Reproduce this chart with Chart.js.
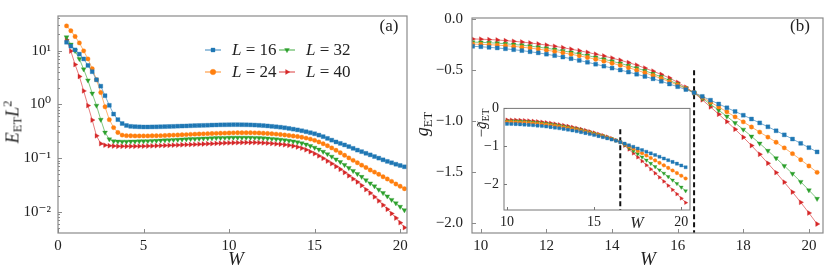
<!DOCTYPE html>
<html>
<head>
<meta charset="utf-8">
<script src="https://cdn.jsdelivr.net/npm/chart.js@4.4.1/dist/chart.umd.min.js"></script>
<style>
  body { margin: 0; width: 830px; height: 277px; position: relative; background: #fff; overflow: hidden; }
  canvas { position: absolute; }
  .lab { position: absolute; font-family: "Liberation Serif", serif; color: #222; white-space: nowrap; transform: translate(-50%, -50%); }
  .rot { transform: translate(-50%, -50%) rotate(-90deg); }
  i { font-style: italic; }
  sub { font-size: 70%; vertical-align: -0.25em; }
  sup { font-size: 70%; vertical-align: 0.55em; }
</style>
</head>
<body>
<canvas id="ca" width="412" height="277" style="left:0;top:0"></canvas>
<canvas id="cb" width="418" height="277" style="left:412px;top:0"></canvas>
<canvas id="ci" width="225" height="140" style="left:470px;top:95px"></canvas>

<div class="lab rot" style="left:13px;top:122px;font-size:18px"><i>E</i><sub>ET</sub><i>L</i><sup>2</sup></div>
<div class="lab" style="left:236px;top:259px;font-size:19px"><i>W</i></div>
<div class="lab" style="left:389px;top:26px;font-size:17px">(a)</div>
<div class="lab rot" style="left:424px;top:124px;font-size:18px"><i>g</i><sub>ET</sub></div>
<div class="lab" style="left:648px;top:259px;font-size:19px"><i>W</i></div>
<div class="lab" style="left:800px;top:26px;font-size:17px">(b)</div>
<div class="lab rot" style="left:482px;top:123px;font-size:15px">−<i>g̃</i><sub>ET</sub></div>
<div class="lab" style="left:637px;top:223px;font-size:16px"><i>W</i></div>

<script>
// system sizes
var sizes = [16, 24, 32, 40];
var colors = ["#1f77b4", "#ff7f0e", "#2ca02c", "#d62728"];

// W grid (panel a), panel b and inset use the upper part
var wA = [0.5, 0.75, 1.0, 1.25, 1.5, 1.75, 2.0, 2.25, 2.5, 2.75,
          3.0, 3.25, 3.5, 3.75, 4.0, 4.25, 4.5, 4.75, 5.0, 5.25,
          5.5, 5.75, 6.0, 6.25, 6.5, 6.75, 7.0, 7.25, 7.5, 7.75,
          8.0, 8.25, 8.5, 8.75, 9.0, 9.25, 9.5, 9.75, 10.0, 10.25,
          10.5, 10.75, 11.0, 11.25, 11.5, 11.75, 12.0, 12.25, 12.5, 12.75,
          13.0, 13.25, 13.5, 13.75, 14.0, 14.25, 14.5, 14.75, 15.0, 15.25,
          15.5, 15.75, 16.0, 16.25, 16.5, 16.75, 17.0, 17.25, 17.5, 17.75,
          18.0, 18.25, 18.5, 18.75, 19.0, 19.25, 19.5, 19.75, 20.0, 20.25];
var wB = wA.slice(37);      // 9.75 .. 20.25
var wInset = wA.slice(38);  // 10.0 .. 20.25

// (a) E_ET L^2
var e16 = [14.3, 12.1, 10.3, 8.6, 7.0, 5.3, 4.05, 2.87, 2.18, 1.45,
           0.96, 0.66, 0.52, 0.44, 0.405, 0.39, 0.385, 0.382, 0.380, 0.380,
           0.381, 0.382, 0.384, 0.386, 0.388, 0.390, 0.393, 0.395, 0.397, 0.400,
           0.403, 0.405, 0.407, 0.409, 0.412, 0.414, 0.416, 0.417, 0.418, 0.419,
           0.419, 0.418, 0.417, 0.415, 0.412, 0.408, 0.403, 0.397, 0.390, 0.383,
           0.376, 0.367, 0.357, 0.346, 0.335, 0.323, 0.310, 0.297, 0.284, 0.268,
           0.251, 0.233, 0.216, 0.200, 0.188, 0.176, 0.164, 0.152, 0.141, 0.132,
           0.123, 0.115, 0.107, 0.100, 0.093, 0.087, 0.082, 0.077, 0.073, 0.069];
var e24 = [28.8, 23.4, 18.3, 13.9, 9.9, 7.0, 4.6, 2.87, 1.66, 0.90,
           0.52, 0.37, 0.30, 0.268, 0.262, 0.260, 0.259, 0.259, 0.259, 0.259,
           0.260, 0.261, 0.262, 0.264, 0.266, 0.268, 0.270, 0.272, 0.274, 0.277,
           0.279, 0.281, 0.283, 0.285, 0.287, 0.289, 0.291, 0.292, 0.294, 0.295,
           0.296, 0.296, 0.296, 0.296, 0.295, 0.294, 0.291, 0.288, 0.284, 0.280,
           0.275, 0.270, 0.264, 0.258, 0.252, 0.245, 0.236, 0.226, 0.214, 0.200,
           0.185, 0.170, 0.155, 0.140, 0.126, 0.113, 0.101, 0.091, 0.082, 0.074,
           0.067, 0.060, 0.055, 0.050, 0.045, 0.041, 0.037, 0.033, 0.030, 0.027];
var e32 = [17.8, 13.0, 9.9, 7.0, 4.5, 2.8, 1.6, 0.95, 0.52, 0.30,
           0.225, 0.207, 0.204, 0.203, 0.203, 0.204, 0.205, 0.206, 0.207, 0.208,
           0.210, 0.211, 0.213, 0.215, 0.217, 0.219, 0.221, 0.223, 0.225, 0.227,
           0.228, 0.230, 0.232, 0.234, 0.236, 0.237, 0.238, 0.239, 0.240, 0.241,
           0.241, 0.241, 0.241, 0.240, 0.239, 0.237, 0.235, 0.232, 0.229, 0.225,
           0.221, 0.216, 0.211, 0.205, 0.198, 0.190, 0.180, 0.169, 0.157, 0.145,
           0.132, 0.119, 0.107, 0.095, 0.085, 0.075, 0.066, 0.058, 0.051, 0.045,
           0.039, 0.034, 0.030, 0.026, 0.0225, 0.0195, 0.0168, 0.0145, 0.0125, 0.0108];
var e40 = [15.9, 9.8, 5.5, 3.3, 1.78, 0.95, 0.51, 0.26, 0.186, 0.174,
           0.170, 0.168, 0.166, 0.166, 0.166, 0.166, 0.166, 0.167, 0.167, 0.168,
           0.169, 0.170, 0.171, 0.172, 0.173, 0.174, 0.175, 0.177, 0.178, 0.179,
           0.180, 0.182, 0.183, 0.185, 0.186, 0.188, 0.189, 0.191, 0.192, 0.193,
           0.194, 0.195, 0.195, 0.195, 0.195, 0.194, 0.192, 0.190, 0.187, 0.184,
           0.181, 0.177, 0.173, 0.168, 0.161, 0.153, 0.143, 0.132, 0.121, 0.110,
           0.099, 0.088, 0.079, 0.070, 0.062, 0.054, 0.047, 0.041, 0.036, 0.031,
           0.026, 0.0225, 0.019, 0.016, 0.0134, 0.0112, 0.0093, 0.0077, 0.0063, 0.0051];

// (b) g_ET
var g16 = [-0.267, -0.271, -0.277, -0.283, -0.291, -0.300, -0.309, -0.320, -0.331, -0.344,
           -0.358, -0.372, -0.388, -0.405, -0.423, -0.442, -0.461, -0.480, -0.499, -0.519,
           -0.540, -0.562, -0.585, -0.609, -0.636, -0.662, -0.690, -0.720, -0.757, -0.794,
           -0.831, -0.868, -0.904, -0.941, -0.978, -1.016, -1.054, -1.093, -1.133, -1.174,
           -1.216, -1.258, -1.300];
var g24 = [-0.245, -0.247, -0.251, -0.255, -0.261, -0.268, -0.275, -0.284, -0.294, -0.305,
           -0.317, -0.330, -0.345, -0.360, -0.376, -0.394, -0.412, -0.432, -0.453, -0.476,
           -0.500, -0.526, -0.553, -0.582, -0.613, -0.646, -0.681, -0.720, -0.766, -0.813,
           -0.860, -0.908, -0.957, -1.006, -1.056, -1.106, -1.155, -1.205, -1.260, -1.317,
           -1.376, -1.437, -1.500];
var g32 = [-0.226, -0.228, -0.232, -0.236, -0.242, -0.249, -0.256, -0.265, -0.275, -0.286,
           -0.298, -0.311, -0.326, -0.341, -0.357, -0.375, -0.393, -0.413, -0.434, -0.456,
           -0.480, -0.506, -0.535, -0.566, -0.600, -0.637, -0.677, -0.721, -0.776, -0.833,
           -0.892, -0.953, -1.016, -1.081, -1.148, -1.217, -1.288, -1.361, -1.436, -1.513,
           -1.592, -1.674, -1.758];
var g40 = [-0.195, -0.197, -0.201, -0.205, -0.211, -0.218, -0.225, -0.234, -0.244, -0.255,
           -0.267, -0.280, -0.295, -0.310, -0.326, -0.344, -0.362, -0.382, -0.403, -0.426,
           -0.451, -0.480, -0.510, -0.542, -0.577, -0.620, -0.667, -0.722, -0.790, -0.860,
           -0.931, -1.004, -1.078, -1.156, -1.238, -1.323, -1.411, -1.502, -1.596, -1.693,
           -1.793, -1.897, -2.005];

// inset: g~_ET
var h16 = [-0.407, -0.410, -0.414, -0.420, -0.427, -0.435, -0.444, -0.454, -0.466, -0.479,
           -0.493, -0.509, -0.525, -0.543, -0.562, -0.583, -0.604, -0.627, -0.651, -0.677,
           -0.703, -0.731, -0.760, -0.790, -0.822, -0.854, -0.890, -0.930, -0.971, -1.013,
           -1.056, -1.099, -1.143, -1.187, -1.231, -1.276, -1.321, -1.366, -1.412, -1.458,
           -1.505, -1.552];
var h24 = [-0.359, -0.361, -0.364, -0.370, -0.376, -0.384, -0.393, -0.403, -0.416, -0.429,
           -0.444, -0.461, -0.479, -0.498, -0.518, -0.541, -0.564, -0.590, -0.616, -0.645,
           -0.674, -0.704, -0.737, -0.770, -0.807, -0.845, -0.888, -0.944, -1.002, -1.061,
           -1.121, -1.182, -1.244, -1.307, -1.371, -1.436, -1.502, -1.569, -1.637, -1.706,
           -1.776, -1.848];
var h32 = [-0.332, -0.334, -0.336, -0.342, -0.348, -0.355, -0.364, -0.375, -0.388, -0.401,
           -0.417, -0.434, -0.453, -0.473, -0.494, -0.518, -0.542, -0.569, -0.596, -0.627,
           -0.658, -0.690, -0.724, -0.759, -0.798, -0.841, -0.887, -0.963, -1.041, -1.120,
           -1.201, -1.283, -1.367, -1.452, -1.538, -1.625, -1.713, -1.802, -1.893, -1.985,
           -2.079, -2.175];
var h40 = [-0.300, -0.301, -0.303, -0.308, -0.314, -0.321, -0.330, -0.341, -0.354, -0.368,
           -0.384, -0.402, -0.422, -0.443, -0.465, -0.490, -0.516, -0.544, -0.573, -0.605,
           -0.638, -0.672, -0.708, -0.746, -0.788, -0.835, -0.885, -0.983, -1.083, -1.185,
           -1.288, -1.392, -1.497, -1.603, -1.710, -1.818, -1.927, -2.037, -2.148, -2.260,
           -2.373, -2.487];

// dashed markers of the crossing point
var dashW = [16.5, 16.5];
var dashG = [-0.5, -2.3];
var dashH = [-0.55, -2.9];

// ticks
var aTicksX = [0, 5, 10, 15, 20];
var aTicksY = [0.01, 0.1, 1, 10];
var aLabelsY = ["10\u207B\u00B2", "10\u207B\u00B9", "10\u2070", "10\u00B9"];
var bTicksX = [10, 12, 14, 16, 18, 20];
var bTicksY = [0, -0.5, -1, -1.5, -2];
var bLabelsY = ["0.0", "\u22120.5", "\u22121.0", "\u22121.5", "\u22122.0"];
var iTicksX = [10, 15, 20];
var iTicksY = [0, -1, -2];
var iLabelsY = ["0", "\u22121", "\u22122"];

var styles = [["rect", 0], ["circle", 0], ["triangle", 180], ["triangle", 90]];

var serif = '"Liberation Serif", "DejaVu Serif", serif';
Chart.defaults.font.family = serif;
Chart.defaults.color = "#222";

function series(xs, ys, i, r) {
    return {
        label: "L = " + sizes[i],
        data: xs.map(function (x, k) { return { x: x, y: ys[k] }; }),
        borderColor: colors[i] + "99",
        borderWidth: 1,
        pointStyle: styles[i][0],
        pointRotation: styles[i][1],
        pointRadius: r,
        pointBackgroundColor: colors[i],
        pointBorderColor: colors[i] + "55",
        pointBorderWidth: 1,
        tension: 0
    };
}

function dashed(ys) {
    return {
        data: dashW.map(function (x, k) { return { x: x, y: ys[k] }; }),
        borderColor: "#111",
        borderWidth: 2,
        borderDash: [5, 3],
        pointRadius: 0
    };
}

function fixTicks(vals) {
    return function (s) { s.ticks = vals.map(function (v) { return { value: v }; }); };
}

// frame, inward ticks, optional white fill
var frame = {
    id: "frame",
    beforeDraw: function (chart, args, o) {
        if (!o.fill) return;
        var a = chart.chartArea, ctx = chart.ctx;
        ctx.save();
        ctx.fillStyle = o.fill;
        ctx.fillRect(a.left, a.top, a.right - a.left, a.bottom - a.top);
        ctx.restore();
    },
    afterDatasetsDraw: function (chart, args, o) {
        var ctx = chart.ctx, a = chart.chartArea, sx = chart.scales.x, sy = chart.scales.y;
        ctx.save();
        ctx.strokeStyle = o.color;
        ctx.lineWidth = 1;
        ctx.beginPath();
        sx.ticks.forEach(function (t) {
            var p = Math.round(sx.getPixelForValue(t.value)) + 0.5;
            ctx.moveTo(p, a.bottom); ctx.lineTo(p, a.bottom - o.len);
        });
        sy.ticks.forEach(function (t) {
            var p = Math.round(sy.getPixelForValue(t.value)) + 0.5;
            ctx.moveTo(a.left, p); ctx.lineTo(a.left + o.len, p);
        });
        if (o.minor) {
            for (var e = -3; e <= 1; e++) {
                for (var m = 2; m <= 9; m++) {
                    var v = m * Math.pow(10, e);
                    if (v < sy.min || v > sy.max) continue;
                    var p = Math.round(sy.getPixelForValue(v)) + 0.5;
                    ctx.moveTo(a.left, p); ctx.lineTo(a.left + o.len / 2, p);
                }
            }
        }
        ctx.stroke();
        ctx.lineWidth = o.width;
        ctx.strokeRect(a.left, a.top, a.right - a.left, a.bottom - a.top);
        ctx.restore();
    }
};

// legend inside panel (a), two columns
var legendBox = {
    id: "legendBox",
    afterDraw: function (chart, args, o) {
        var ctx = chart.ctx;
        ctx.save();
        sizes.forEach(function (L, i) {
            var x0 = o.x[Math.floor(i / 2)], y0 = o.y[i % 2];
            ctx.strokeStyle = colors[i] + "99";
            ctx.lineWidth = 1.5;
            ctx.beginPath(); ctx.moveTo(x0, y0); ctx.lineTo(x0 + 16, y0); ctx.stroke();
            ctx.fillStyle = colors[i];
            ctx.strokeStyle = colors[i] + "55";
            ctx.lineWidth = 1;
            Chart.helpers.drawPoint(ctx, { pointStyle: styles[i][0], rotation: styles[i][1], radius: 2.8, borderWidth: 1 }, x0 + 8, y0);
            ctx.fillStyle = "#222";
            ctx.textBaseline = "middle";
            ctx.font = "italic 17px " + serif;
            var tx = x0 + 27;
            ctx.fillText("L", tx, y0 + 1);
            var w = ctx.measureText("L").width;
            ctx.font = "17px " + serif;
            ctx.fillText(" = " + L, tx + w, y0 + 1);
        });
        ctx.restore();
    }
};

var tickFont = { family: serif, size: 15 };
var insetFont = { family: serif, size: 14 };

// panel (a)
new Chart(document.getElementById("ca").getContext("2d"), {
    type: "line",
    data: {
        datasets: [
            series(wA, e16, 0, 2.8),
            series(wA, e24, 1, 2.2),
            series(wA, e32, 2, 2.8),
            series(wA, e40, 3, 2.8)
        ]
    },
    options: {
        responsive: false,
        animation: false,
        layout: { padding: { left: 0, top: 7, right: 2, bottom: 0 } },
        plugins: {
            legend: { display: false },
            tooltip: { enabled: false },
            frame: { color: "#8a8a8a", width: 1.2, len: 4, minor: true },
            legendBox: { x: [205, 279], y: [50, 72] }
        },
        scales: {
            x: {
                type: "linear", min: 0, max: 20.4,
                afterBuildTicks: fixTicks(aTicksX),
                afterFit: function (s) { s.height = 44; },
                grid: { display: false, drawTicks: false },
                border: { display: false },
                ticks: { font: tickFont, padding: 4, maxRotation: 0, autoSkip: false }
            },
            y: {
                type: "logarithmic", min: 0.00405, max: 44,
                afterBuildTicks: fixTicks(aTicksY),
                afterFit: function (s) { s.width = 58; },
                grid: { display: false, drawTicks: false },
                border: { display: false },
                ticks: { font: tickFont, padding: 7, autoSkip: false,
                         callback: function (v, i) { return aLabelsY[i]; } }
            }
        }
    },
    plugins: [frame, legendBox]
});

// panel (b)
new Chart(document.getElementById("cb").getContext("2d"), {
    type: "line",
    data: {
        datasets: [
            series(wB, g16, 0, 2.8),
            series(wB, g24, 1, 2.2),
            series(wB, g32, 2, 2.8),
            series(wB, g40, 3, 2.8),
            dashed(dashG)
        ]
    },
    options: {
        responsive: false,
        animation: false,
        layout: { padding: { left: 0, top: 7, right: 7, bottom: 0 } },
        plugins: {
            legend: { display: false },
            tooltip: { enabled: false },
            frame: { color: "#8a8a8a", width: 1.2, len: 4 }
        },
        scales: {
            x: {
                type: "linear", min: 9.73, max: 20.43,
                afterBuildTicks: fixTicks(bTicksX),
                afterFit: function (s) { s.height = 44; },
                grid: { display: false, drawTicks: false },
                border: { display: false },
                ticks: { font: tickFont, padding: 4, maxRotation: 0, autoSkip: false }
            },
            y: {
                type: "linear", min: -2.093, max: 0.01,
                afterBuildTicks: fixTicks(bTicksY),
                afterFit: function (s) { s.width = 60; },
                grid: { display: false, drawTicks: false },
                border: { display: false },
                ticks: { font: tickFont, padding: 9, autoSkip: false,
                         callback: function (v, i) { return bLabelsY[i]; } }
            }
        }
    },
    plugins: [frame]
});

// inset
new Chart(document.getElementById("ci").getContext("2d"), {
    type: "line",
    data: {
        datasets: [
            series(wInset, h16, 0, 2.2),
            series(wInset, h24, 1, 1.8),
            series(wInset, h32, 2, 2.2),
            series(wInset, h40, 3, 2.2),
            dashed(dashH)
        ]
    },
    options: {
        responsive: false,
        animation: false,
        layout: { padding: { left: 0, top: 5, right: 3, bottom: 0 } },
        plugins: {
            legend: { display: false },
            tooltip: { enabled: false },
            frame: { color: "#777", width: 1, len: 3, fill: "#fff" }
        },
        scales: {
            x: {
                type: "linear", min: 9.83, max: 20.5,
                afterBuildTicks: fixTicks(iTicksX),
                afterFit: function (s) { s.height = 25; },
                grid: { display: false, drawTicks: false },
                border: { display: false },
                ticks: { font: insetFont, padding: 4, maxRotation: 0, autoSkip: false }
            },
            y: {
                type: "linear", min: -2.68, max: 0,
                afterBuildTicks: fixTicks(iTicksY),
                afterFit: function (s) { s.width = 34; },
                grid: { display: false, drawTicks: false },
                border: { display: false },
                ticks: { font: insetFont, padding: 5, autoSkip: false,
                         callback: function (v, i) { return iLabelsY[i]; } }
            }
        }
    },
    plugins: [frame]
});
</script>
</body>
</html>
